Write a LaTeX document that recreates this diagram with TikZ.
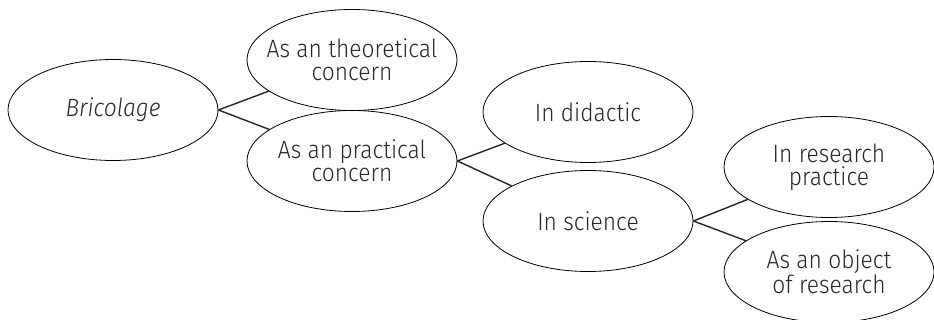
\documentclass[tikz,border=0pt]{standalone}
\usepackage{fontspec}
\setmainfont{Fira Sans Light}[FakeStretch=0.91]
\usetikzlibrary{shapes.geometric}
\begin{document}
\begin{tikzpicture}[x=1pt,y=-1pt,
  bub/.style={ellipse,draw=black,line width=0.8pt,minimum width=210pt,minimum height=101pt,inner xsep=-16pt,inner ysep=0pt,align=center,
    font=\fontsize{25}{23}\selectfont,text=black!85},
  link/.style={line width=1.4pt,draw=black!85}]
\useasboundingbox (0,0) rectangle (934,320);
\node[bub] (bri) at (113,110) {\itshape Bricolage};
\node[bub] (theo) at (352,60) {As an theoretical\\concern};
\node[bub] (prac) at (352,161) {As an practical\\concern};
\node[bub] (did) at (588,112) {In didactic};
\node[bub] (sci) at (588,221) {In science};
\node[bub] (resp) at (829,167) {In research\\practice};
\node[bub] (obj) at (829,272) {As an object\\of research};
\draw[link] (bri.east) -- (theo);
\draw[link] (bri.east) -- (prac);
\draw[link] (prac.east) -- (did);
\draw[link] (prac.east) -- (sci);
\draw[link] (sci.east) -- (resp);
\draw[link] (sci.east) -- (obj);
\end{tikzpicture}
\end{document}
